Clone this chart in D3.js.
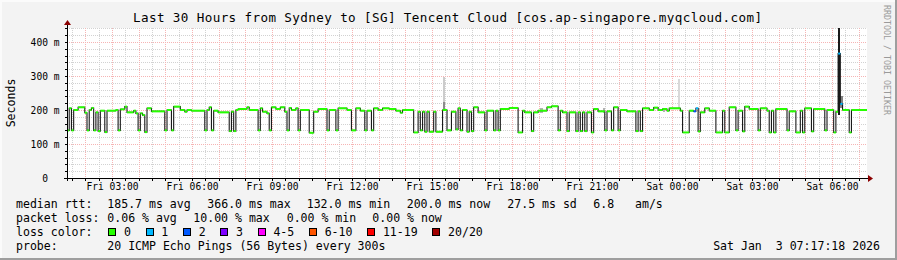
<!DOCTYPE html>
<html>
<head>
<meta charset="utf-8">
<script src="https://cdn.jsdelivr.net/npm/d3@7"></script>
<style>
html, body { margin: 0; padding: 0; background: #f3f3f3; }
svg text { font-family: "DejaVu Sans Mono", monospace; white-space: pre; }
</style>
</head>
<body>
<svg id="chart" width="897" height="260"></svg>
<script>
// median rtt, one step per change: minutes after graph start, ms
var stepMin = [0,5,10,15,25,40,45,50,55,60,65,70,75,85,90,110,115,120,130,135,150,155,160,165,170,175,180,190,
  220,225,235,240,255,265,270,280,310,315,320,325,330,340,365,370,375,380,385,405,410,430,435,440,450,455,460,
  470,480,490,495,500,505,515,520,525,545,555,565,585,590,605,610,630,640,650,660,670,675,685,690,700,710,725,
  740,750,755,780,790,795,800,805,810,815,825,830,845,855,865,875,880,885,890,900,905,910,915,925,940,945,960,
  965,970,975,995,1015,1025,1030,1045,1050,1060,1080,1090,1105,1110,1115,1125,1130,1145,1150,1155,1160,1165,
  1170,1180,1185,1195,1210,1215,1225,1230,1240,1245,1260,1280,1285,1290,1295,1310,1320,1330,1340,1350,1355,
  1380,1385,1400,1410,1415,1420,1425,1435,1445,1460,1475,1480,1490,1505,1510,1520,1525,1535,1555,1560,1575,
  1580,1585,1590,1595,1620,1625,1640,1650,1655,1660,1675,1680,1705,1710,1725,1730,1735,1740,1745,1760,1765];
var stepMs = [140,205,140,200,208,192,140,200,206,140,193,138,198,135,198,200,140,202,210,193,198,190,140,190,
  185,135,205,196,140,200,140,210,200,195,200,198,140,200,208,140,198,193,138,195,138,200,203,208,200,140,205,
  195,190,140,208,203,208,195,140,206,200,205,140,200,133,195,203,140,200,140,205,200,140,205,198,140,198,140,
  205,200,205,203,198,192,200,134,195,140,195,136,195,136,195,136,200,140,195,143,205,140,200,136,195,138,208,
  193,140,198,140,198,140,203,206,134,198,193,138,193,198,208,211,140,198,193,138,193,138,193,138,193,138,193,
  134,203,196,140,196,140,208,140,200,196,138,196,138,205,200,207,200,203,198,205,198,134,198,196,205,137,193,
  205,198,134,198,134,208,140,198,137,210,203,140,205,198,134,198,134,203,140,196,134,198,134,205,137,203,140,
  200,134,195,366,218,200,134,200];
var totalMin = 1800;

// steps with lost pings (out of 20)
var lossMin = [1410, 1415, 1735, 1740];
var lossCount = [2, 1, 1, 1];

// smoke bands: minute, low ms, high ms, pings in band
var smokeMin = [845, 845, 1065, 1205, 1340, 1375, 1420, 1735, 1740];
var smokeLo = [225, 200, 190, 190, 195, 205, 195, 185, 205];
var smokeHi = [297, 225, 205, 205, 202, 290, 205, 450, 240];
var smokePings = [4, 9, 6, 6, 6, 3, 5, 18, 10];

var lossLabels = ['0', '1', '2', '3', '4-5', '6-10', '11-19', '20/20'];
var lossColors = ['#26ff00', '#00b8ff', '#0059ff', '#7e00ff', '#ff00ff', '#ff5500', '#ff0000', '#a10000'];

var rttStats = ['185.7 ms avg', '366.0 ms max', '132.0 ms min', '200.0 ms now', '27.5 ms sd', '6.8   am/s'];
var lossStats = ['0.06 % avg', '10.00 % max', '0.00 % min', '0.00 % now'];

var titleText = 'Last 30 Hours from Sydney to [SG] Tencent Cloud [cos.ap-singapore.myqcloud.com]';
var probeText = '20 ICMP Echo Pings (56 Bytes) every 300s';
var stampText = 'Sat Jan  3 07:17:18 2026';

var W = 897, H = 260;
var plot = {left: 67, right: 867, top: 28, bottom: 178};
var start = new Date(2026, 0, 2, 1, 18, 45);
var end = new Date(+start + totalMin * 60000);
function at(m) { return new Date(+start + m * 60000); }

var x = d3.scaleTime().domain([start, end]).range([plot.left, plot.right]);
var y = d3.scaleLinear().domain([0, 441.2]).range([plot.bottom, plot.top]);
var shade = d3.scaleLinear().domain([0, 20]).range(['#ffffff', '#000000']);

function lossIndex(n) {
    if (n <= 3) return n;
    if (n <= 5) return 4;
    if (n <= 10) return 5;
    if (n <= 19) return 6;
    return 7;
}

var svg = d3.select('#chart');

// canvas with rrdtool style shading
svg.append('rect').attr('width', W).attr('height', H).attr('fill', '#f3f3f3');
svg.append('path').attr('d', 'M0,0H' + W + 'V2H2V' + H + 'H0Z').attr('fill', '#fbfbfb');
svg.append('path').attr('d', 'M' + W + ',0V' + H + 'H0V' + (H - 2) + 'H' + (W - 2) + 'V0Z').attr('fill', '#9e9e9e');

svg.append('rect')
    .attr('x', plot.left).attr('y', plot.top)
    .attr('width', plot.right - plot.left).attr('height', plot.bottom - plot.top)
    .attr('fill', '#ffffff');

// grid
var grid = svg.append('g').attr('shape-rendering', 'crispEdges').attr('stroke-dasharray', '1,1');
var hMinor = d3.range(20, 441, 20).filter(v => v % 100);
var hMajor = d3.range(100, 441, 100);
var vMinor = d3.timeMinute.every(30).range(start, end).filter(d => d.getMinutes() !== 0);
var vMajor = d3.timeHour.range(start, end);

grid.selectAll('.hmin').data(hMinor).enter().append('line')
    .attr('x1', plot.left).attr('x2', plot.right)
    .attr('y1', d => Math.round(y(d)) + 0.5).attr('y2', d => Math.round(y(d)) + 0.5)
    .attr('stroke', '#d2d2d2');
grid.selectAll('.vmin').data(vMinor).enter().append('line')
    .attr('y1', plot.top).attr('y2', plot.bottom)
    .attr('x1', d => Math.round(x(d)) + 0.5).attr('x2', d => Math.round(x(d)) + 0.5)
    .attr('stroke', '#d2d2d2');
grid.selectAll('.hmaj').data(hMajor).enter().append('line')
    .attr('x1', plot.left).attr('x2', plot.right)
    .attr('y1', d => Math.round(y(d)) + 0.5).attr('y2', d => Math.round(y(d)) + 0.5)
    .attr('stroke', '#f6b4b4');
grid.selectAll('.vmaj').data(vMajor).enter().append('line')
    .attr('y1', plot.top).attr('y2', plot.bottom)
    .attr('x1', d => Math.round(x(d)) + 0.5).attr('x2', d => Math.round(x(d)) + 0.5)
    .attr('stroke', '#f6b4b4');

// smoke
var smoke = smokeMin.map((m, i) => ({m: m, lo: smokeLo[i], hi: Math.min(smokeHi[i], 441.2), n: smokePings[i]}));
svg.append('g').attr('shape-rendering', 'crispEdges')
    .selectAll('rect').data(smoke).enter().append('rect')
    .attr('x', d => x(at(d.m)))
    .attr('width', d => x(at(d.m + 5)) - x(at(d.m)))
    .attr('y', d => y(d.hi))
    .attr('height', d => y(d.lo) - y(d.hi))
    .attr('fill', d => shade(d.n));

// median line
var steps = stepMin.map((m, i) => {
    var k = lossMin.indexOf(m);
    return {
        t0: at(m),
        t1: at(i + 1 < stepMin.length ? stepMin[i + 1] : totalMin),
        v: stepMs[i],
        loss: k < 0 ? 0 : lossCount[k]
    };
});
var pts = steps.map(d => [d.t0, d.v]).concat([[end, steps[steps.length - 1].v]]);
var line = d3.line().x(d => x(d[0])).y(d => y(d[1])).curve(d3.curveStepAfter);

svg.append('path')
    .attr('d', line(pts))
    .attr('fill', 'none')
    .attr('stroke', '#1a1a1a')
    .attr('stroke-width', 1.1);

svg.append('g').selectAll('line').data(steps).enter().append('line')
    .attr('x1', d => x(d.t0)).attr('x2', d => x(d.t1))
    .attr('y1', d => y(d.v)).attr('y2', d => y(d.v))
    .attr('stroke', d => lossColors[lossIndex(d.loss)])
    .attr('stroke-width', 2);

// axes lines and arrows
var ax = svg.append('g').attr('shape-rendering', 'crispEdges');
ax.append('line').attr('x1', plot.left - 3).attr('x2', plot.right + 2)
    .attr('y1', plot.bottom + 0.5).attr('y2', plot.bottom + 0.5).attr('stroke', '#000');
ax.append('line').attr('x1', plot.left + 0.5).attr('x2', plot.left + 0.5)
    .attr('y1', plot.bottom + 3).attr('y2', plot.top - 3).attr('stroke', '#000');
ax.selectAll('.xt').data(vMajor.concat(vMinor)).enter().append('line')
    .attr('x1', d => Math.round(x(d)) + 0.5).attr('x2', d => Math.round(x(d)) + 0.5)
    .attr('y1', plot.bottom).attr('y2', plot.bottom + 3).attr('stroke', '#000');
ax.selectAll('.yt').data(hMajor.concat(hMinor)).enter().append('line')
    .attr('y1', d => Math.round(y(d)) + 0.5).attr('y2', d => Math.round(y(d)) + 0.5)
    .attr('x1', plot.left - 2).attr('x2', plot.left).attr('stroke', '#000');
svg.append('path')
    .attr('d', 'M' + (plot.right + 1) + ',' + (plot.bottom - 3) + 'L' + (plot.right + 6) + ',' + (plot.bottom + 0.5) + 'L' + (plot.right + 1) + ',' + (plot.bottom + 4) + 'Z')
    .attr('fill', '#8b0000');
svg.append('path')
    .attr('d', 'M' + (plot.left - 3) + ',' + (plot.top - 3) + 'L' + (plot.left + 0.5) + ',' + (plot.top - 8) + 'L' + (plot.left + 4) + ',' + (plot.top - 3) + 'Z')
    .attr('fill', '#8b0000');

// tick labels
var xAxis = d3.axisBottom(x)
    .ticks(d3.timeHour.every(3))
    .tickFormat(d3.timeFormat('%a %H:%M'))
    .tickSize(0).tickPadding(5.5);
svg.append('g')
    .attr('transform', 'translate(0,' + plot.bottom + ')')
    .call(xAxis)
    .call(g => g.select('.domain').remove())
    .attr('font-family', null).attr('font-size', 9.6)
    .selectAll('text').attr('fill', '#000');

var yAxis = d3.axisLeft(y)
    .tickValues(d3.range(0, 441, 100))
    .tickFormat(d => d === 0 ? '0  ' : d + ' m')
    .tickSize(0).tickPadding(7.5);
svg.append('g')
    .attr('transform', 'translate(' + plot.left + ',0)')
    .call(yAxis)
    .call(g => g.select('.domain').remove())
    .attr('font-family', null).attr('font-size', 9.6)
    .selectAll('text').attr('fill', '#000');

// titles
svg.append('text')
    .attr('x', 447.5).attr('y', 22)
    .attr('text-anchor', 'middle').attr('font-size', 12.6)
    .attr('textLength', 629).attr('lengthAdjust', 'spacing')
    .text(titleText);
svg.append('text')
    .attr('transform', 'translate(15,' + (plot.top + plot.bottom) / 2 + ') rotate(-90)')
    .attr('text-anchor', 'middle').attr('font-size', 11.55)
    .text('Seconds');
svg.append('text')
    .attr('transform', 'translate(883.5,5) rotate(90)')
    .attr('font-size', 8.3).attr('fill', '#9a9a9a')
    .text('RRDTOOL / TOBI OETIKER');

// legend
var legend = svg.append('g').attr('font-size', 11.55);
legend.append('text').attr('x', 16).attr('y', 208).text('median rtt:');
legend.selectAll('.rtt').data(rttStats).enter().append('text')
    .attr('x', (d, i) => [107.3, 207.3, 306.7, 406.7, 507.3, 593.3][i]).attr('y', 208)
    .text(d => d);
legend.append('text').attr('x', 16).attr('y', 222).text('packet loss:');
legend.selectAll('.loss').data(lossStats).enter().append('text')
    .attr('x', (d, i) => [107.3, 193.3, 286.7, 372.3][i]).attr('y', 222)
    .text(d => d);
legend.append('text').attr('x', 16).attr('y', 236).text('loss color:');
var bx = 108.3;
lossLabels.forEach((lab, i) => {
    legend.append('rect')
        .attr('x', Math.round(bx) + 0.5).attr('y', 228.5)
        .attr('width', 7).attr('height', 7)
        .attr('fill', lossColors[i]).attr('stroke', '#000')
        .attr('shape-rendering', 'crispEdges');
    var t = legend.append('text').attr('x', bx + 15.7).attr('y', 236).text(lab);
    bx = bx + 15.7 + t.node().getComputedTextLength() + 14.7;
});
legend.append('text').attr('x', 16).attr('y', 250).text('probe:');
legend.append('text').attr('x', 107.3).attr('y', 250).text(probeText);
legend.append('text').attr('x', 880).attr('y', 250).attr('text-anchor', 'end').text(stampText);
</script>
</body>
</html>
